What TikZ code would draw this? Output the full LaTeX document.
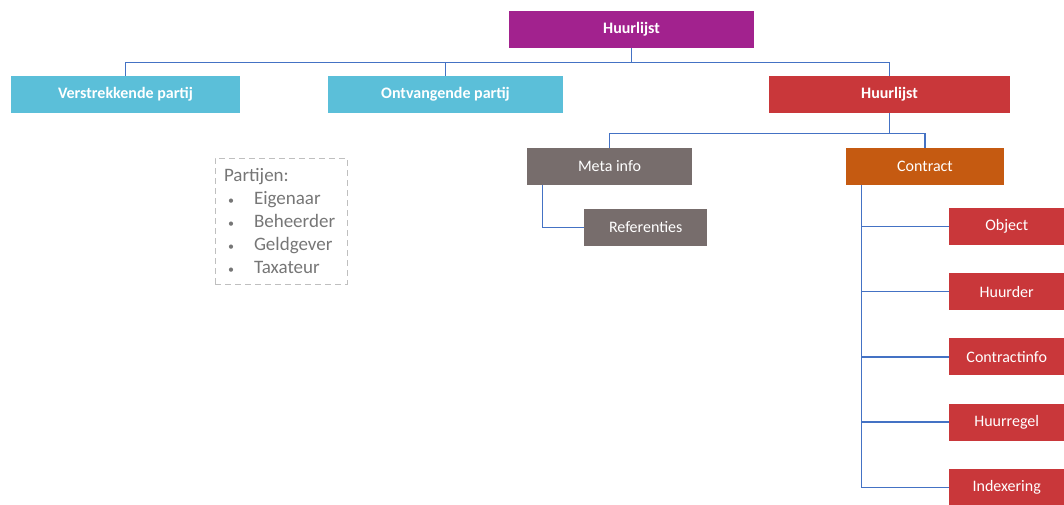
\documentclass[tikz,border=0pt]{standalone}
\usepackage{fontspec}
\setmainfont{Carlito}
\usepackage{tikz}

\definecolor{hlpurple}{HTML}{A2228E}
\definecolor{hlcyan}{HTML}{5BBFD9}
\definecolor{hlred}{HTML}{C9373A}
\definecolor{hlgray}{HTML}{776D6C}
\definecolor{hlorange}{HTML}{C55A11}
\definecolor{hlblue}{HTML}{4472C4}
\definecolor{hltext}{HTML}{767676}

\newcommand{\partybullet}{\makebox[30pt][l]{\hspace{4pt}{\fontsize{12}{12}\selectfont\textbullet}}}

\tikzset{
	box/.style={minimum height=37pt, inner sep=0pt, text=white, font=\fontsize{16}{18}\selectfont},
	headbox/.style={box, font=\fontsize{16}{18}\selectfont\bfseries},
	link/.style={hlblue, line width=1.3pt}
}

\begin{document}
\begin{tikzpicture}[x=1pt, y=-1pt]
			\useasboundingbox (0,0) rectangle (1064,504);
			
			% Top level
			\node[headbox, fill=hlpurple, minimum width=245pt] (root) at (631.5,29.5) {Huurlijst};
			
			% Second level
			\node[headbox, fill=hlcyan, minimum width=229pt] (verstr) at (125.5,94.5) {Verstrekkende partij};
			\node[headbox, fill=hlcyan, minimum width=235pt] (ontv) at (445.5,94.5) {Ontvangende partij};
			\node[headbox, fill=hlred, minimum width=241pt] (lijst) at (889.5,94.5) {Huurlijst};
			
			\draw[link] (root.south) -- ++(0,14) coordinate (bus1);
			\draw[link] (verstr.north) |- (bus1) -| (lijst.north);
			\draw[link] (ontv.north) -- (ontv.north |- bus1);
			
			% Third level
			\node[box, fill=hlgray, minimum width=165pt] (meta) at (609.5,166.5) {Meta info};
			\node[box, fill=hlorange, minimum width=158pt] (contract) at (925,166.5) {Contract};
			
			\draw[link] (lijst.south) -- ++(0,20) coordinate (bus2);
			\draw[link] (meta.north) |- (bus2) -| (contract.north);
			
			% Meta info children
			\node[box, fill=hlgray, minimum width=123pt, anchor=west] (ref) at (584,227.5) {Referenties};
			\draw[link] ([xshift=16pt]meta.south west) |- (ref.west);
			
			% Contract children
			\coordinate (ctop) at ([xshift=16pt]contract.south west);
			\foreach \name/\label [count=\i] in {obj/Object, huurder/Huurder, cinfo/Contractinfo, regel/Huurregel, index/Indexering} {
				\node[box, fill=hlred, minimum width=115pt, anchor=west] (\name) at (949,{226.5+65.2*(\i-1)}) {\label};
			}
			\foreach \name in {obj, huurder, cinfo, regel} {
				\draw[link] (ctop |- \name.west) -- (\name.west);
			}
			\draw[link] (ctop) |- (index.west);
			
			% Partijen
			\node[draw=black!25, line width=1pt, dash pattern=on 6pt off 4pt, minimum width=132pt, minimum height=126pt,
				text width=114pt, inner xsep=9pt, align=left, text=hltext,
				font=\fontsize{19}{23}\selectfont] (partijen) at (281,221) {Partijen:\\
				\partybullet Eigenaar\\
				\partybullet Beheerder\\
				\partybullet Geldgever\\
				\partybullet Taxateur};
			
		\end{tikzpicture}
\end{document}
